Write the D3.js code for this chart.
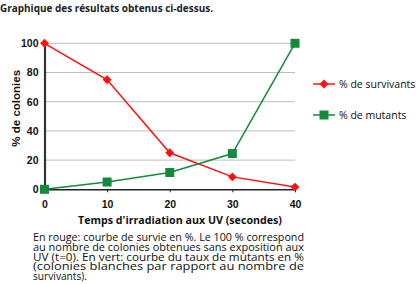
<!DOCTYPE html>
<html>
<head>
<meta charset="utf-8">
<script src="https://cdn.jsdelivr.net/npm/d3@7"></script>
<style>
  body { margin: 0; background: #fff; }
</style>
</head>
<body>
<div id="chart"></div>
<script>
// values
const temps = [0, 10, 20, 30, 40];
const survivants = [100, 75, 25, 8.5, 1.5];
const mutants = [0, 5, 11.5, 24.5, 100];
const yTicks = [0, 20, 40, 60, 80, 100];
const captionLines = [
  "En rouge: courbe de survie en %. Le 100 % correspond",
  "au nombre de colonies obtenues sans exposition aux",
  "UV (t=0). En vert:  courbe du taux de mutants en %",
  "(colonies  blanches  par  rapport  au  nombre  de",
  "survivants)."
];

const W = 416, H = 284;
const ARIAL = "'Liberation Sans', Arial, sans-serif";
const SANS = "'Open Sans', sans-serif";

const svg = d3.select("#chart").append("svg")
    .attr("width", W)
    .attr("height", H);

svg.append("text")
    .attr("x", 0).attr("y", 12)
    .attr("font-size", 10.5).attr("font-weight", "bold")
    .attr("font-family", SANS)
    .attr("textLength", 213).attr("lengthAdjust", "spacingAndGlyphs")
    .attr("fill", "#222")
    .text("Graphique des résultats obtenus ci-dessus.");

var x = d3.scaleLinear().domain([0, 40]).range([44.5, 295]);
var y = d3.scaleLinear().domain([0, 100]).range([189.3, 43.3]);

const g = svg.append("g");

// gridlines
g.selectAll(".grid")
    .data(yTicks.filter(d => d > 0))
    .enter().append("line")
    .attr("x1", x(0)).attr("x2", x(40))
    .attr("y1", d => y(d)).attr("y2", d => y(d))
    .attr("stroke", "#bdbdbd").attr("stroke-width", 1);

// x axis
const xAxis = g.append("g")
    .attr("transform", `translate(0,${y(0)})`)
    .call(d3.axisBottom(x).tickValues(temps).tickSize(3).tickSizeOuter(0));
xAxis.select(".domain").attr("stroke", "#222").attr("stroke-width", 1.5);
xAxis.selectAll(".tick line").attr("stroke", "#222");
xAxis.selectAll(".tick text")
    .attr("dy", 0).attr("y", 19)
    .attr("font-size", 10.5).attr("font-weight", "bold").attr("fill", "#111")
    .attr("font-family", ARIAL);

// y axis
const yAxis = g.append("g")
    .attr("transform", `translate(${x(0)},0)`)
    .call(d3.axisLeft(y).tickValues(yTicks).tickSize(0).tickPadding(6));
yAxis.select(".domain").attr("stroke", "#333").attr("stroke-width", 2.2);
yAxis.selectAll(".tick text")
    .attr("font-size", 10.5).attr("font-weight", "bold").attr("fill", "#111")
    .attr("font-family", ARIAL);

// axis titles
svg.append("text")
    .attr("transform", `translate(20,${(y(0) + y(100)) / 2 - 8}) rotate(-90)`)
    .attr("text-anchor", "middle")
    .attr("font-size", 11.5).attr("font-weight", "bold").attr("fill", "#111")
    .attr("font-family", ARIAL)
    .text("% de colonies");

svg.append("text")
    .attr("x", 78).attr("y", 224)
    .attr("font-size", 11).attr("font-weight", "bold").attr("fill", "#111")
    .attr("font-family", SANS)
    .attr("textLength", 204).attr("lengthAdjust", "spacingAndGlyphs")
    .text("Temps d'irradiation aux UV (secondes)");

// series
const series = [
  {name: "% de survivants", values: survivants, color: "#ff1010", shape: "diamond"},
  {name: "% de mutants", values: mutants, color: "#158a3c", shape: "square"}
];

var line = d3.line()
    .x((d, i) => x(temps[i]))
    .y(d => y(d));

function marker(sel, s, cx, cy) {
  if (s.shape === "square") {
    sel.append("rect")
        .attr("x", cx - 4.5).attr("y", cy - 4.5)
        .attr("width", 9).attr("height", 9)
        .attr("fill", s.color);
  } else {
    sel.append("path")
        .attr("d", d3.symbol(d3.symbolDiamond2, 50)())
        .attr("transform", `translate(${cx},${cy})`)
        .attr("fill", s.color);
  }
}

for (let s of series) {
  g.append("path")
      .datum(s.values)
      .attr("fill", "none")
      .attr("stroke", s.color)
      .attr("stroke-width", 1.5)
      .attr("d", line);
  s.values.forEach((v, i) => marker(g, s, x(temps[i]), y(v)));
}

// legend
const legend = svg.append("g").attr("transform", "translate(313,84)");
series.forEach((s, i) => {
  const row = legend.append("g").attr("transform", `translate(0,${i * 31})`);
  row.append("line").attr("x1", 0).attr("x2", 22)
      .attr("stroke", s.color).attr("stroke-width", 1.5);
  marker(row, s, 11, 0);
  row.append("text")
      .attr("x", 26).attr("y", 4)
      .attr("font-size", 10.5).attr("fill", "#111")
      .attr("font-family", SANS)
      .text(s.name);
});

// caption, tightly leaded like the original
const caption = svg.append("text")
    .attr("font-size", 10).attr("fill", "#111")
    .attr("font-family", SANS);
captionLines.forEach((t, i) => {
  const tspan = caption.append("tspan")
      .attr("x", 33).attr("y", 241 + i * 9.8)
      .text(t);
  if (i < captionLines.length - 1) {
    tspan.attr("textLength", 271).attr("lengthAdjust", "spacingAndGlyphs");
  } else {
    tspan.attr("textLength", 54).attr("lengthAdjust", "spacingAndGlyphs");
  }
});
</script>
</body>
</html>
